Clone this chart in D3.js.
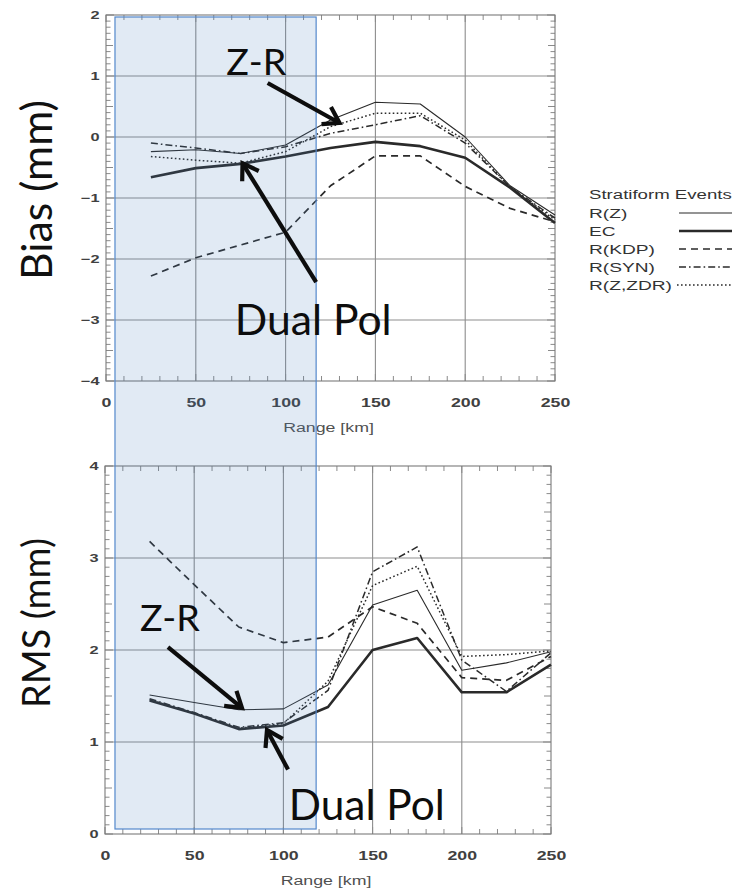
<!DOCTYPE html>
<html>
<head>
<meta charset="utf-8">
<script src="https://cdn.jsdelivr.net/npm/d3@7"></script>
<style>
  html, body { margin: 0; padding: 0; background: #fff; }
  svg { display: block; }
</style>
</head>
<body>
<script>
// Range gates (km) shared by every series
const ranges = [25, 50, 75, 100, 125, 150, 175, 200, 225, 250];

// Bias (mm) per estimator
const biasRZ  = [-0.24, -0.21, -0.27, -0.13, 0.28, 0.57, 0.54, 0.00, -0.80, -1.28];
const biasEC  = [-0.66, -0.51, -0.44, -0.32, -0.18, -0.08, -0.15, -0.34, -0.83, -1.41];
const biasKDP = [-2.28, -1.98, -1.77, -1.56, -0.80, -0.31, -0.31, -0.81, -1.17, -1.39];
const biasSYN = [-0.10, -0.18, -0.27, -0.16, 0.06, 0.20, 0.35, -0.10, -0.82, -1.33];
const biasZDR = [-0.32, -0.38, -0.43, -0.24, 0.17, 0.39, 0.39, -0.05, -0.82, -1.36];

// RMS error (mm) per estimator
const rmsRZ  = [1.51, 1.43, 1.35, 1.36, 1.62, 2.49, 2.65, 1.78, 1.86, 1.98];
const rmsEC  = [1.45, 1.31, 1.14, 1.18, 1.38, 2.00, 2.13, 1.54, 1.54, 1.84];
const rmsKDP = [3.18, 2.71, 2.25, 2.08, 2.14, 2.47, 2.29, 1.70, 1.67, 1.93];
const rmsSYN = [1.47, 1.32, 1.16, 1.21, 1.56, 2.85, 3.12, 1.89, 1.55, 1.97];
const rmsZDR = [1.46, 1.31, 1.15, 1.20, 1.66, 2.70, 2.91, 1.93, 1.95, 1.99];

// Labels
const seriesNames = ["R(Z)", "EC", "R(KDP)", "R(SYN)", "R(Z,ZDR)"];
const legendTitle = "Stratiform Events";
const xTicks = [0, 50, 100, 150, 200, 250];
const biasTicks = [-4, -3, -2, -1, 0, 1, 2];
const rmsTicks = [0, 1, 2, 3, 4];
const xTitle = "Range [km]";
const biasTitle = "Bias (mm)";
const rmsTitle = "RMS (mm)";

// Highlighted near-range band (km)
const bandRange = [5, 117];

// ---------------------------------------------------------------
const W = 745, H = 888;
const STRETCH = 1.42;            // chart lettering is drawn wide
const labelFont = "'Liberation Sans', Arial, Helvetica, sans-serif";
const noteFont = "Lato, 'Open Sans', sans-serif";
const ink = "#2a2a2a";

const lineStyles = {
  "R(Z)":     { width: 1.1, dash: null },
  "EC":       { width: 2.6, dash: null },
  "R(KDP)":   { width: 1.7, dash: "7,5" },
  "R(SYN)":   { width: 1.5, dash: "7,3,1.6,3" },
  "R(Z,ZDR)": { width: 1.5, dash: "1.6,2.4" }
};

const svg = d3.select("body").append("svg")
  .attr("width", W).attr("height", H)
  .attr("viewBox", `0 0 ${W} ${H}`);

const panels = [
  {
    name: "bias",
    x: d3.scaleLinear().domain([0, 250]).range([106, 555]),
    y: d3.scaleLinear().domain([-4, 2]).range([381, 15]),
    yTicks: biasTicks,
    series: [biasRZ, biasEC, biasKDP, biasSYN, biasZDR],
    xTitleY: 432,
    title: biasTitle, titleX: 52, titleY: 190, titleW: 180
  },
  {
    name: "rms",
    x: d3.scaleLinear().domain([0, 250]).range([105, 551]),
    y: d3.scaleLinear().domain([0, 4]).range([834, 466]),
    yTicks: rmsTicks,
    series: [rmsRZ, rmsEC, rmsKDP, rmsSYN, rmsZDR],
    xTitleY: 885,
    title: rmsTitle, titleX: 50, titleY: 623, titleW: 170
  }
];

function fitWidth(sel, target) {
  const size = +sel.attr("font-size");
  const len = sel.node().getComputedTextLength();
  if (len > 0) sel.attr("font-size", size * target / len);
}

function drawPanel(p) {
  const g = svg.append("g").attr("class", "panel-" + p.name);
  const [x0, x1] = p.x.range();
  const [yb, yt] = p.y.range();

  // grid
  const grid = g.append("g").attr("stroke", "#8d8d8d").attr("stroke-width", 1.1);
  xTicks.slice(1, -1).forEach(v => {
    grid.append("line").attr("x1", p.x(v)).attr("x2", p.x(v)).attr("y1", yt).attr("y2", yb);
  });
  p.yTicks.slice(1, -1).forEach(v => {
    grid.append("line").attr("x1", x0).attr("x2", x1).attr("y1", p.y(v)).attr("y2", p.y(v));
  });

  // minor ticks along the frame
  const ticks = g.append("g").attr("stroke", "#8a8a8a").attr("stroke-width", 1);
  d3.range(0, 251, 10).forEach(v => {
    const len = v % 50 === 0 ? 7 : 5;
    ticks.append("line").attr("x1", p.x(v)).attr("x2", p.x(v)).attr("y1", yt).attr("y2", yt + len);
    ticks.append("line").attr("x1", p.x(v)).attr("x2", p.x(v)).attr("y1", yb).attr("y2", yb - len);
  });
  const [d0, d1] = p.y.domain();
  d3.range(Math.round(d0 * 10), Math.round(d1 * 10) + 1).forEach(k => {
    const v = k / 10;
    const len = k % 10 === 0 ? 8 : (k % 5 === 0 ? 7 : 4.5);
    ticks.append("line").attr("x1", x0).attr("x2", x0 + len).attr("y1", p.y(v)).attr("y2", p.y(v));
    ticks.append("line").attr("x1", x1).attr("x2", x1 - len).attr("y1", p.y(v)).attr("y2", p.y(v));
  });

  // frame
  g.append("rect").attr("x", x0).attr("y", yt).attr("width", x1 - x0).attr("height", yb - yt)
    .attr("fill", "none").attr("stroke", "#7a7a7a").attr("stroke-width", 1.1);

  // tick labels via d3 axes
  const ax = g.append("g").attr("transform", `translate(0,${yb})`)
    .call(d3.axisBottom(p.x).tickValues(xTicks).tickSize(0).tickPadding(17).tickFormat(d3.format("d")));
  const ay = g.append("g").attr("transform", `translate(${x0},0)`)
    .call(d3.axisLeft(p.y).tickValues(p.yTicks).tickSize(0).tickPadding(4.5).tickFormat(d3.format("d")));
  [ax, ay].forEach(a => {
    a.select(".domain").remove();
    a.selectAll("text")
      .attr("font-family", labelFont).attr("font-size", 12.5)
      .attr("fill", "#404040").attr("font-weight", "bold")
      .attr("transform", `scale(${STRETCH},1)`);
  });
  ay.selectAll("text").attr("font-size", 11.5);

  // x title
  g.append("text")
    .attr("transform", `translate(${(x0 + x1) / 2 - 2},${p.xTitleY}) scale(${STRETCH},1)`)
    .attr("text-anchor", "middle")
    .attr("font-family", labelFont).attr("font-size", 12.5)
    .attr("fill", "#505050").text(xTitle);

  // series
  const line = d3.line().x((d, i) => p.x(ranges[i])).y(d => p.y(d));
  p.series.forEach((vals, i) => {
    const st = lineStyles[seriesNames[i]];
    g.append("path").datum(vals)
      .attr("d", line).attr("fill", "none")
      .attr("stroke", ink).attr("stroke-width", st.width)
      .attr("stroke-dasharray", st.dash)
      .attr("stroke-linejoin", "round");
  });

  // vertical side title
  const t = svg.append("text")
    .attr("transform", `translate(${p.titleX},${p.titleY}) rotate(-90)`)
    .attr("text-anchor", "middle")
    .attr("font-family", noteFont).attr("font-size", 40)
    .attr("fill", "#111").text(p.title);
  fitWidth(t, p.titleW);
}

panels.forEach(drawPanel);

// legend
(function legend() {
  const g = svg.append("g").attr("class", "legend");
  const lx = 589, sx0 = 679, sx1 = 732;
  g.append("text")
    .attr("transform", `translate(${lx},199) scale(1.38,1)`)
    .attr("font-family", labelFont).attr("font-size", 13.5)
    .attr("fill", "#333").text(legendTitle);
  seriesNames.forEach((name, i) => {
    const cy = 213 + i * 18;
    g.append("text")
      .attr("transform", `translate(${lx},${cy + 5}) scale(${STRETCH},1)`)
      .attr("font-family", labelFont).attr("font-size", 13.5)
      .attr("fill", "#333").text(name);
    const st = lineStyles[name];
    g.append("line")
      .attr("x1", name === "R(Z,ZDR)" ? sx0 - 2 : sx0).attr("x2", sx1)
      .attr("y1", cy).attr("y2", cy)
      .attr("stroke", ink).attr("stroke-width", st.width)
      .attr("stroke-dasharray", st.dash);
  });
})();

// highlighted near-range band spanning both panels
const topPanel = panels[0], botPanel = panels[1];
svg.append("rect")
  .attr("x", topPanel.x(bandRange[0]))
  .attr("y", topPanel.y(2) + 2)
  .attr("width", topPanel.x(bandRange[1]) - topPanel.x(bandRange[0]))
  .attr("height", botPanel.y(0) - 5 - (topPanel.y(2) + 2))
  .attr("fill", "rgb(79,129,189)").attr("fill-opacity", 0.17)
  .attr("stroke", "rgb(84,136,204)").attr("stroke-width", 1.2);

// callouts, placed in data coordinates of each panel
const notes = [
  { p: topPanel, text: "Z-R", at: [67, 1.02], w: 60, from: [90, 0.885], to: [130, 0.23] },
  { p: topPanel, text: "Dual Pol", at: [71.7, -3.25], w: 157, from: [117, -2.38], to: [76, -0.43] },
  { p: botPanel, text: "Z-R", at: [19.6, 2.21], w: 60, from: [35.3, 2.03], to: [76.8, 1.37] },
  { p: botPanel, text: "Dual Pol", at: [103, 0.15], w: 156, from: [102.6, 0.70], to: [90.8, 1.13] }
];

notes.forEach(n => {
  const t = svg.append("text")
    .attr("x", n.p.x(n.at[0])).attr("y", n.p.y(n.at[1]))
    .attr("font-family", noteFont).attr("font-size", 44)
    .attr("fill", "#0d0d0d").text(n.text);
  fitWidth(t, n.w);

  const ax = n.p.x(n.from[0]), ay = n.p.y(n.from[1]);
  const bx = n.p.x(n.to[0]), by = n.p.y(n.to[1]);
  const ang = Math.atan2(by - ay, bx - ax);
  const head = 18, spread = Math.PI / 5.5;
  const g = svg.append("g").attr("stroke", "#0d0d0d").attr("fill", "none")
    .attr("stroke-width", 4.2).attr("stroke-linecap", "butt").attr("stroke-linejoin", "miter");
  g.append("line").attr("x1", ax).attr("y1", ay)
    .attr("x2", bx - 3 * Math.cos(ang)).attr("y2", by - 3 * Math.sin(ang));
  const p1 = [bx - head * Math.cos(ang - spread), by - head * Math.sin(ang - spread)];
  const p2 = [bx - head * Math.cos(ang + spread), by - head * Math.sin(ang + spread)];
  g.append("path").attr("d", `M${p1[0]},${p1[1]}L${bx},${by}L${p2[0]},${p2[1]}`);
});
</script>
</body>
</html>
